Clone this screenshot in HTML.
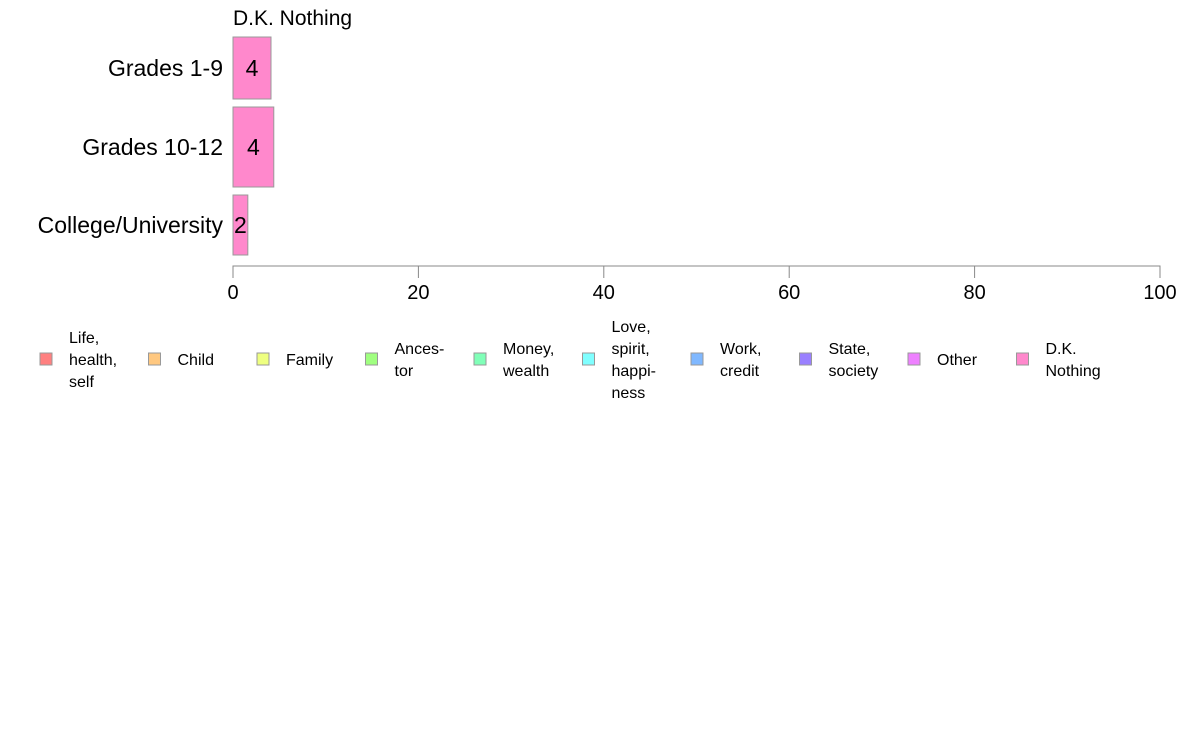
<!DOCTYPE html>
<html><head><meta charset="utf-8"><style>
body{margin:0;background:#fff;font-family:"Liberation Sans",Arial,sans-serif}
svg text{font-family:"Liberation Sans",Arial,sans-serif}
</style></head><body>
<svg id="chart" width="1188" height="736" xmlns="http://www.w3.org/2000/svg"></svg>
<script>
const categories = ["Grades 1-9", "Grades 10-12", "College/University"];
const values = [4.1, 4.4, 1.6];
const printedValues = ["4", "4", "2"];
const rowTops = [37, 107, 195];
const rowBottoms = [99, 187, 255];
const xTicks = [0, 20, 40, 60, 80, 100];
const legendLabels = [["Life,","health,","self"],["Child"],["Family"],["Ances-","tor"],["Money,","wealth"],["Love,","spirit,","happi-","ness"],["Work,","credit"],["State,","society"],["Other"],["D.K.","Nothing"]];
const legendColors = ["#ff8080","#ffc880","#eeff80","#a0ff80","#80ffb8","#80ffff","#80b8ff","#9a80ff","#ee80ff","#ff88cc"];

const NS="http://www.w3.org/2000/svg";
const svg=document.getElementById('chart');
const x0=233,x1=1160;
const xs=v=>x0+(v/100)*(x1-x0);
function mk(tag,attrs,parent){const e=document.createElementNS(NS,tag);for(const k in attrs)e.setAttribute(k,attrs[k]);(parent||svg).appendChild(e);return e;}

const title=mk('text',{x:233,y:25,'font-size':21,fill:'#000'});


title.textContent='D.K. Nothing';

categories.forEach((c,i)=>{
  const cy=(rowTops[i]+rowBottoms[i])/2;
  const lab=mk('text',{x:223,y:cy+8,'font-size':23,'text-anchor':'end',fill:'#000'});
  
  
  lab.textContent=c;
  const r=mk('rect',{x:x0,y:rowTops[i],width:xs(values[i])-x0,height:rowBottoms[i]-rowTops[i],fill:'#ff88cc',stroke:'#999','stroke-width':1});
  
  
  const vt=mk('text',{x:(x0+xs(values[i]))/2,y:cy+8,'font-size':23,'text-anchor':'middle',fill:'#000'});
  
  
  vt.textContent=printedValues[i];
});

const ax=mk('path',{d:`M${x0},${278}V266H${x1}V278`,fill:'none',stroke:'#888','stroke-width':1});


xTicks.forEach(t=>{
  const tk=mk('line',{x1:xs(t),x2:xs(t),y1:266,y2:278,stroke:'#888'});
  
  
  const tl=mk('text',{x:xs(t),y:299,'font-size':20,'text-anchor':'middle',fill:'#000'});
  
  
  tl.textContent=t;
});

legendLabels.forEach((lines,i)=>{
  const lx=40+i*108.5;
  const g=mk('g',{});
  
  
  mk('rect',{x:lx,y:353,width:12,height:12,fill:legendColors[i],stroke:'#999','stroke-width':1},g);
  const n=lines.length;
  const startY=359-(n-1)*11+6;
  lines.forEach((ln,j)=>{
    const t=mk('text',{x:lx+29,y:startY+j*22,'font-size':16,fill:'#000'},g);
    t.textContent=ln;
  });
});
</script>
</body></html>
